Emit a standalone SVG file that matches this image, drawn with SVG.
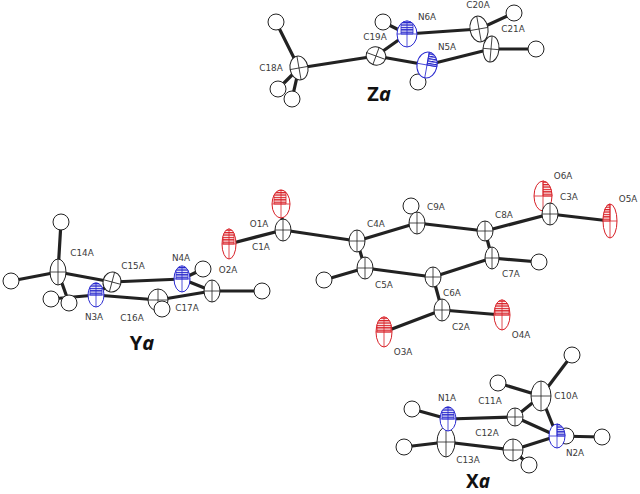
<svg xmlns="http://www.w3.org/2000/svg" width="640" height="494" viewBox="0 0 640 494">
<style>
text{font-family:"DejaVu Sans",sans-serif;font-size:8.8px;fill:#3a3a3a;text-anchor:middle}
.t{font-family:"Noto Sans","Open Sans",sans-serif;font-size:20px;font-weight:700;fill:#111}
.t2{font-size:19px}
.t tspan{font-style:italic}
#bonds line{stroke:#222;stroke-width:3.2;stroke-linecap:round}
ellipse,circle{fill:#fff;stroke-width:1}
circle{stroke:#222}
.c ellipse,.c path{stroke:#222;fill:#fff}
.n ellipse,.n path{stroke:#2a2ad0;fill:#fff}
.o ellipse,.o path{stroke:#d81f26;fill:#fff}
path{stroke-width:.8}
.x{fill:none!important}
.c .x{stroke:#222}
.n .x{stroke:#2a2ad0}
.o .x{stroke:#d81f26}
.n .h{fill:url(#hn)!important}
.o .h{fill:url(#ho)!important}
</style>
<defs>
<pattern id="hn" width="3" height="2.4" patternUnits="userSpaceOnUse"><rect width="3" height="2.4" fill="#fff"/><rect width="3" height="1.3" fill="#2020c8"/></pattern>
<pattern id="ho" width="3" height="2.4" patternUnits="userSpaceOnUse"><rect width="3" height="2.4" fill="#fff"/><rect width="3" height="1.3" fill="#d81f26"/></pattern>
</defs>
<g id="bonds">
<line x1="276" y1="22" x2="299" y2="68"/><line x1="299" y1="68" x2="376" y2="56"/><line x1="299" y1="68" x2="278" y2="89"/><line x1="299" y1="68" x2="292" y2="99"/><line x1="376" y1="56" x2="407" y2="34"/><line x1="376" y1="56" x2="427" y2="65"/><line x1="407" y1="34" x2="383" y2="22"/><line x1="407" y1="34" x2="479" y2="29"/><line x1="479" y1="29" x2="514" y2="13"/><line x1="479" y1="29" x2="491" y2="49"/><line x1="491" y1="49" x2="536" y2="49"/><line x1="491" y1="49" x2="427" y2="65"/><line x1="427" y1="65" x2="418" y2="82"/>
<line x1="61" y1="222" x2="58" y2="272"/><line x1="58" y1="272" x2="11" y2="281"/><line x1="58" y1="272" x2="69" y2="303"/><line x1="58" y1="272" x2="112" y2="282"/><line x1="112" y1="282" x2="96" y2="295"/><line x1="112" y1="282" x2="182" y2="279"/><line x1="96" y1="295" x2="51" y2="299"/><line x1="96" y1="295" x2="158" y2="300"/><line x1="158" y1="300" x2="212" y2="291"/><line x1="212" y1="291" x2="182" y2="279"/><line x1="182" y1="279" x2="203" y2="269"/><line x1="212" y1="291" x2="262" y2="291"/>
<line x1="283" y1="230" x2="281" y2="204"/><line x1="283" y1="230" x2="229" y2="244"/><line x1="283" y1="230" x2="357" y2="241"/><line x1="357" y1="241" x2="417" y2="223"/><line x1="357" y1="241" x2="365" y2="268"/><line x1="417" y1="223" x2="411" y2="206"/><line x1="417" y1="223" x2="485" y2="231"/><line x1="485" y1="231" x2="550" y2="214"/><line x1="550" y1="214" x2="543" y2="196"/><line x1="550" y1="214" x2="610" y2="221"/><line x1="485" y1="231" x2="492" y2="258"/><line x1="492" y1="258" x2="539" y2="262"/><line x1="492" y1="258" x2="433" y2="277"/><line x1="433" y1="277" x2="365" y2="268"/><line x1="365" y1="268" x2="324" y2="280"/><line x1="433" y1="277" x2="442" y2="310"/><line x1="442" y1="310" x2="384" y2="332"/><line x1="442" y1="310" x2="502" y2="315"/>
<line x1="541" y1="396" x2="572" y2="355"/><line x1="541" y1="396" x2="498" y2="383"/><line x1="541" y1="396" x2="515" y2="417"/><line x1="541" y1="396" x2="557" y2="436"/><line x1="515" y1="417" x2="448" y2="419"/><line x1="515" y1="417" x2="557" y2="436"/><line x1="448" y1="419" x2="412" y2="409"/><line x1="448" y1="419" x2="446" y2="442"/><line x1="446" y1="442" x2="404" y2="447"/><line x1="446" y1="442" x2="513" y2="450"/><line x1="513" y1="450" x2="529" y2="465"/><line x1="513" y1="450" x2="557" y2="436"/><line x1="557" y1="436" x2="602" y2="437"/>
</g>
<g id="H-atoms">
<circle cx="276" cy="22" r="8"/><circle cx="278" cy="89" r="8"/><circle cx="383" cy="22" r="8"/><circle cx="514" cy="13" r="8"/><circle cx="536" cy="49" r="8"/><circle cx="418" cy="82" r="8"/>
<circle cx="61" cy="222" r="8"/><circle cx="11" cy="281" r="8"/><circle cx="69" cy="303" r="8"/><circle cx="51" cy="299" r="8"/><circle cx="203" cy="269" r="8"/><circle cx="262" cy="291" r="8"/>
<circle cx="411" cy="206" r="8"/><circle cx="539" cy="262" r="8"/><circle cx="324" cy="280" r="8"/>
<circle cx="572" cy="355" r="8"/><circle cx="498" cy="383" r="8"/><circle cx="412" cy="409" r="8"/><circle cx="404" cy="447" r="8"/><circle cx="602" cy="437" r="8"/><circle cx="566" cy="436" r="8"/>
</g>
<g id="C18A" class="c"><g transform="translate(299,68) rotate(-10)"><ellipse rx="9" ry="12"/><path class="x" d="M-9,0H9M0,-12V12"/></g><text x="271" y="71">C18A</text></g>
<g id="H18"><circle cx="292" cy="99" r="8"/></g>
<g id="C19A" class="c"><g transform="translate(376,56) rotate(20)"><ellipse rx="10" ry="9"/><path class="x" d="M-10,0H10M0,-9V9"/></g><text x="375" y="40">C19A</text></g>
<g id="N6A" class="n"><g transform="translate(407,34)"><ellipse rx="10" ry="13"/><path class="h" d="M-6,0V-10.4A10,13 0 0 1 6,-10.4V0Z"/><path class="x" d="M-10,0H10M0,-13V13"/></g><text x="427" y="20">N6A</text></g>
<g id="C20A" class="c"><g transform="translate(479,29) rotate(-10)"><ellipse rx="9" ry="13"/><path class="x" d="M-9,0H9M0,-13V13"/></g><text x="478" y="8">C20A</text></g>
<g id="C21A" class="c"><g transform="translate(491,49) rotate(5)"><ellipse rx="8" ry="13"/><path class="x" d="M-8,0H8M0,-13V13"/></g><text x="513" y="32">C21A</text></g>
<g id="N5A" class="n"><g transform="translate(427,65) rotate(10)"><ellipse rx="10" ry="13"/><path class="h" d="M0,0V-13A10,13 0 0 1 10,0Z"/><path class="x" d="M-10,0H10M0,-13V13"/></g><text x="447" y="50">N5A</text></g>
<text class="t" x="379" y="101">Z<tspan>a</tspan></text>
<g id="C14A" class="c"><g transform="translate(58,272)"><ellipse rx="8" ry="13"/><path class="x" d="M-8,0H8M0,-13V13"/></g><text x="82" y="256">C14A</text></g>
<g id="C15A" class="c"><g transform="translate(112,282) rotate(15)"><ellipse rx="9" ry="10"/><path class="x" d="M-9,0H9M0,-10V10"/></g><text x="133" y="269">C15A</text></g>
<g id="N3A" class="n"><g transform="translate(96,295)"><ellipse rx="8" ry="12"/><path class="h" d="M-6,0V-8A8,12 0 0 1 6,-8V0Z"/><path class="x" d="M-8,0H8M0,-12V12"/></g><text x="94" y="320">N3A</text></g>
<g id="C16A" class="c"><g transform="translate(158,300)"><ellipse rx="10" ry="11"/><path class="x" d="M-10,0H10M0,-11V11"/></g><text x="132" y="321">C16A</text></g>
<g id="H16"><circle cx="162" cy="309" r="8"/></g>
<g id="N4A" class="n"><g transform="translate(182,279)"><ellipse rx="8" ry="13"/><path class="h" d="M-6,0V-8.6A8,13 0 0 1 6,-8.6V0Z"/><path class="x" d="M-8,0H8M0,-13V13"/></g><text x="181" y="261">N4A</text></g>
<g id="C17A" class="c"><g transform="translate(212,291)"><ellipse rx="8" ry="11"/><path class="x" d="M-8,0H8M0,-11V11"/></g><text x="187" y="311">C17A</text></g>
<text class="t" x="142" y="350">Y<tspan>a</tspan></text>
<g id="O1A" class="o"><g transform="translate(281,204)"><ellipse rx="9" ry="14"/><path class="h" d="M-7,0V-8.8A9,14 0 0 1 5,-11.6V0Z"/><path class="x" d="M-9,0H9M0,-14V14"/></g><text x="259" y="227">O1A</text></g>
<g id="C1A" class="c"><g transform="translate(283,230)"><ellipse rx="8" ry="11"/><path class="x" d="M-8,0H8M0,-11V11"/></g><text x="261" y="250">C1A</text></g>
<g id="O2A" class="o"><g transform="translate(229,244)"><ellipse rx="7" ry="15"/><path class="h" d="M-6,0V-7.7A7,15 0 0 1 5,-10.5V0Z"/><path class="x" d="M-7,0H7M0,-15V15"/></g><text x="228" y="273">O2A</text></g>
<g id="C4A" class="c"><g transform="translate(357,241)"><ellipse rx="8" ry="11"/><path class="x" d="M-8,0H8M0,-11V11"/></g><text x="376" y="227">C4A</text></g>
<g id="C9A" class="c"><g transform="translate(417,223)"><ellipse rx="8" ry="11"/><path class="x" d="M-8,0H8M0,-11V11"/></g><text x="436" y="210">C9A</text></g>
<g id="C5A" class="c"><g transform="translate(365,268)"><ellipse rx="8" ry="11"/><path class="x" d="M-8,0H8M0,-11V11"/></g><text x="384" y="288">C5A</text></g>
<g id="C6A" class="c"><g transform="translate(433,277)"><ellipse rx="8" ry="10"/><path class="x" d="M-8,0H8M0,-10V10"/></g><text x="452" y="296">C6A</text></g>
<g id="C2A" class="c"><g transform="translate(442,310)"><ellipse rx="8" ry="11"/><path class="x" d="M-8,0H8M0,-11V11"/></g><text x="461" y="330">C2A</text></g>
<g id="O3A" class="o"><g transform="translate(384,332)"><ellipse rx="8" ry="15"/><path class="h" d="M-7,0V-7.3A8,15 0 0 1 7,-7.3V0Z"/><path class="x" d="M-8,0H8M0,-15V15"/></g><text x="403" y="355">O3A</text></g>
<g id="O4A" class="o"><g transform="translate(502,315)"><ellipse rx="8" ry="15"/><path class="h" d="M-7,0V-7.3A8,15 0 0 1 7,-7.3V0Z"/><path class="x" d="M-8,0H8M0,-15V15"/></g><text x="521" y="338">O4A</text></g>
<g id="C8A" class="c"><g transform="translate(485,231)"><ellipse rx="8" ry="10"/><path class="x" d="M-8,0H8M0,-10V10"/></g><text x="504" y="218">C8A</text></g>
<g id="O6A" class="o"><g transform="translate(543,196)"><ellipse rx="9" ry="15"/><path class="h" d="M0,0V-15A9,15 0 0 1 9,0Z"/><path class="x" d="M-9,0H9M0,-15V15"/></g><text x="563" y="179">O6A</text></g>
<g id="C3A" class="c"><g transform="translate(550,214)"><ellipse rx="8" ry="11"/><path class="x" d="M-8,0H8M0,-11V11"/></g><text x="569" y="200">C3A</text></g>
<g id="O5A" class="o"><g transform="translate(610,221)"><ellipse rx="7" ry="17"/><path class="h" d="M-7,0A7,17 0 0 1 0,-17V0Z"/><path class="x" d="M-7,0H7M0,-17V17"/></g><text x="628" y="202">O5A</text></g>
<g id="C7A" class="c"><g transform="translate(492,258)"><ellipse rx="7" ry="11"/><path class="x" d="M-7,0H7M0,-11V11"/></g><text x="511" y="277">C7A</text></g>
<g id="C10A" class="c"><g transform="translate(541,396)"><ellipse rx="10" ry="15"/><path class="x" d="M-10,0H10M0,-15V15"/></g><text x="566" y="399">C10A</text></g>
<g id="C11A" class="c"><g transform="translate(515,417)"><ellipse rx="8" ry="9"/><path class="x" d="M-8,0H8M0,-9V9"/></g><text x="490" y="404">C11A</text></g>
<g id="C13A" class="c"><g transform="translate(446,442)"><ellipse rx="9" ry="15"/><path class="x" d="M-9,0H9M0,-15V15"/></g><text x="468" y="463">C13A</text></g>
<g id="N1A" class="n"><g transform="translate(448,419)"><ellipse rx="8" ry="12"/><path class="h" d="M-6,0V-8A8,12 0 0 1 6,-8V0Z"/><path class="x" d="M-8,0H8M0,-12V12"/></g><text x="447" y="401">N1A</text></g>
<g id="C12A" class="c"><g transform="translate(513,450)"><ellipse rx="10" ry="11"/><path class="x" d="M-10,0H10M0,-11V11"/></g><text x="487" y="436">C12A</text></g>
<g id="H12"><circle cx="529" cy="465" r="8"/></g>
<g id="N2A" class="n"><g transform="translate(557,436)"><ellipse rx="8" ry="12"/><path class="h" d="M0,0V-12A8,12 0 0 1 8,0Z"/><path class="x" d="M-8,0H8M0,-12V12"/></g><text x="575" y="456">N2A</text></g>
<text class="t t2" x="478" y="488">X<tspan>a</tspan></text>
</svg>
